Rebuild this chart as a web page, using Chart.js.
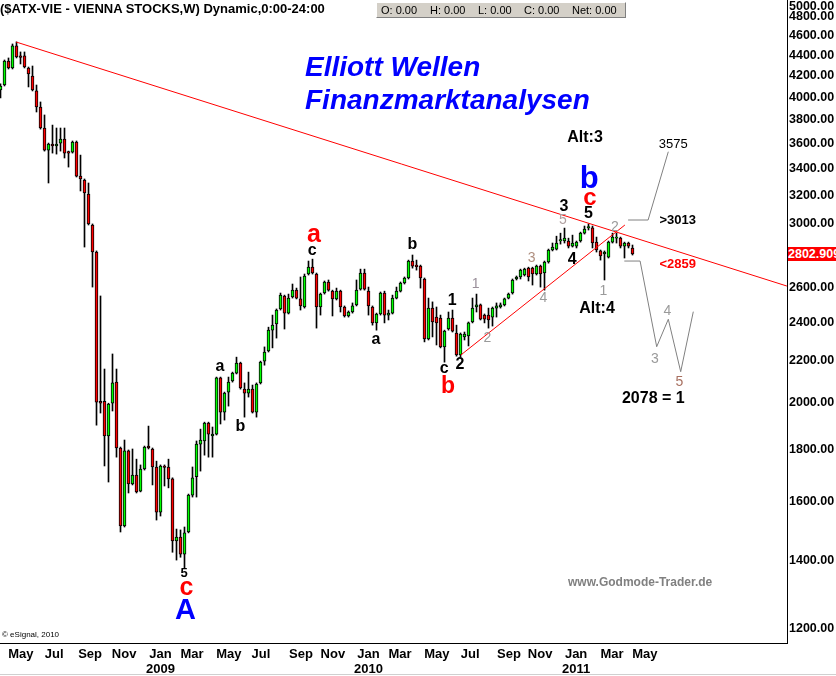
<!DOCTYPE html>
<html><head><meta charset="utf-8">
<script src="https://cdn.jsdelivr.net/npm/chart.js"></script>
<style>
html,body{margin:0;padding:0;background:#fff;}
#wrap{position:relative;width:836px;height:676px;overflow:hidden;font-family:"Liberation Sans",Arial,sans-serif;background:#fff;}
canvas{position:absolute;left:0;top:0;}
.lbl{position:absolute;white-space:nowrap;transform:translate(-50%,-50%);line-height:1;}
#hdr{position:absolute;left:0px;top:1px;font-weight:bold;font-size:13px;color:#000;white-space:nowrap;}
#ohlc{position:absolute;left:376px;top:2px;width:248px;height:14px;background:#d4d0c8;border:1px solid;border-color:#fff #808080 #808080 #fff;font-size:11px;color:#000;white-space:nowrap;}
#ohlc span{position:absolute;top:1px;}
#price{position:absolute;left:788px;top:247px;width:48px;height:14px;background:#ff0000;color:#fff;font-weight:bold;font-size:12.5px;line-height:14px;white-space:nowrap;overflow:hidden;}
#y5000{position:absolute;left:789px;top:0px;font-weight:bold;font-size:12.5px;line-height:13px;color:#000;}
#copy{position:absolute;left:2px;top:630px;font-size:8px;color:#000;}
#title1,#title2{position:absolute;left:305px;font-weight:bold;font-style:italic;font-size:28px;color:#0000ff;white-space:nowrap;line-height:1;}
#wm{position:absolute;left:568px;top:575px;font-weight:bold;font-size:12px;color:#808080;}
#botline{position:absolute;left:0;top:674px;width:836px;height:1px;background:#d0d0d0;}
</style></head><body>
<div id="wrap"><canvas id="c" width="836" height="676"></canvas></div>
<script>
// Weekly ATX candles (index 0 = first visible week, ~late Mar 2008)
const opens  = [4065,4111,4341,4273,4492,4391,4391,4273,4196,4056,3911,3729,3547,3596,3580,3604,3637,3535,3531,3612,3344,3314,3211,2993,2815,2007,2007,1855,1998,2096,1805,1513,1793,1664,1698,1637,1721,1813,1801,1729,1561,1733,1729,1683,1462,1475,1419,1492,1622,1691,1821,1834,1910,1855,1863,2116,1958,2049,2101,2139,2188,2063,2044,2063,1958,2092,2198,2249,2358,2391,2474,2548,2451,2542,2582,2531,2485,2678,2720,2678,2485,2565,2630,2576,2531,2576,2485,2435,2457,2497,2588,2684,2576,2485,2397,2446,2565,2440,2451,2536,2576,2624,2654,2758,2733,2726,2648,2311,2479,2429,2424,2270,2364,2424,2343,2229,2322,2327,2402,2485,2497,2440,2440,2429,2479,2485,2497,2536,2565,2648,2660,2672,2714,2714,2678,2726,2684,2752,2828,2834,2886,2886,2886,2853,2853,2886,2938,2973,2973,2879,2822,2803,2783,2879,2905,2905,2853,2873,2841];
const highs  = [4121,4351,4371,4512,4533,4431,4431,4282,4292,4111,3956,3841,3604,3754,3729,3729,3729,3539,3621,3621,3507,3322,3292,3000,2822,2548,2159,1998,2234,2159,1809,1838,1797,1801,1760,1737,1813,1897,1805,1752,1737,1737,1760,1687,1502,1499,1509,1626,1729,1834,1884,1914,1914,1893,2120,2120,2049,2120,2144,2218,2193,2092,2144,2082,2092,2198,2270,2374,2440,2474,2565,2553,2559,2618,2594,2660,2678,2758,2770,2684,2565,2636,2642,2582,2594,2582,2491,2463,2508,2642,2708,2708,2600,2491,2451,2571,2576,2468,2553,2600,2630,2660,2764,2796,2764,2733,2654,2536,2514,2485,2440,2358,2457,2468,2385,2343,2348,2402,2536,2559,2502,2446,2479,2485,2508,2508,2536,2565,2648,2666,2708,2714,2720,2720,2733,2733,2758,2834,2873,2918,2938,2972,2905,2925,2886,2945,2986,3000,2986,2912,2828,2822,2886,2938,2938,2912,2879,2879,2860];
const lows   = [3992,4102,4263,4263,4371,4312,4273,4093,4056,3867,3720,3539,3292,3523,3515,3539,3484,3413,3523,3337,3233,2847,2993,2600,1901,1954,1733,1671,1963,1768,1492,1509,1630,1660,1630,1634,1717,1801,1660,1533,1547,1656,1649,1425,1400,1409,1375,1489,1615,1615,1713,1776,1768,1768,1859,1906,1923,1985,2096,2135,2063,1936,2026,1954,1936,2087,2178,2244,2265,2316,2468,2364,2446,2536,2531,2468,2479,2672,2678,2369,2440,2559,2576,2435,2525,2457,2429,2429,2451,2491,2582,2582,2440,2385,2358,2440,2397,2413,2446,2531,2571,2618,2648,2714,2702,2594,2296,2306,2322,2280,2265,2193,2358,2348,2223,2218,2306,2275,2397,2457,2413,2397,2369,2380,2429,2479,2491,2531,2559,2642,2648,2666,2636,2612,2672,2600,2582,2745,2822,2828,2866,2873,2841,2847,2841,2879,2932,2959,2841,2815,2764,2642,2777,2873,2873,2841,2777,2841,2796];
const closes = [4102,4341,4273,4492,4381,4376,4282,4215,4065,3911,3729,3547,3596,3580,3596,3637,3523,3523,3612,3344,3322,3219,3000,2815,2003,1998,1855,1994,2092,1805,1513,1793,1664,1698,1634,1721,1809,1805,1729,1561,1733,1727,1683,1462,1475,1419,1489,1622,1687,1821,1838,1910,1863,1863,2116,1958,2044,2096,2139,2188,2068,2044,2063,1958,2087,2193,2244,2358,2385,2468,2553,2451,2536,2582,2536,2491,2666,2720,2684,2485,2559,2630,2582,2531,2576,2485,2435,2457,2491,2582,2684,2588,2491,2397,2446,2565,2440,2451,2536,2576,2624,2654,2758,2726,2723,2654,2311,2479,2402,2397,2270,2353,2424,2353,2229,2337,2337,2397,2479,2497,2418,2418,2413,2479,2491,2497,2531,2559,2642,2660,2702,2708,2660,2678,2726,2678,2752,2828,2847,2873,2895,2905,2853,2873,2879,2938,2966,2983,2873,2828,2790,2815,2879,2912,2912,2853,2873,2853,2803];

// x-axis month labels and their week positions
const monthLabels = ['May','Jul','Sep','Nov',['Jan','2009'],'Mar','May','Jul','Sep','Nov',['Jan','2010'],'Mar','May','Jul','Sep','Nov',['Jan','2011'],'Mar','May'];
const monthPos = [5.1,13.4,22.4,30.9,40,47.9,57.1,65.1,75.1,83.1,92,99.9,109.1,117.4,127.1,134.9,143.9,152.9,161.1];
// y-axis tick values
const yTicks = [1200,1400,1600,1800,2000,2200,2400,2600,2800,3000,3200,3400,3600,3800,4000,4200,4400,4600,4800];

// drawn trend lines and projections (week index, price)
const trendMain = [{x:3.9,y:4532},{x:196.6,y:2606}];
const trendSupport = [{x:115.1,y:2229},{x:156.1,y:2993}];
const projAlt3 = [{x:156.9,y:3027},{x:161.9,y:3027},{x:166.95,y:3534}];
const projAlt4 = [{x:155.95,y:2758},{x:159.9,y:2758},{x:164.05,y:2271},{x:166.95,y:2417},{x:170.05,y:2146},{x:173.2,y:2459}];

const bodies = opens.map((o,i)=>({x:i,y:[o,closes[i]]}));
const wicks = lows.map((l,i)=>({x:i,y:[l,highs[i]]}));
const bodyColors = opens.map((o,i)=> closes[i]>=o ? '#00ff00' : '#ff0000');

const FONT = '"Liberation Sans", Arial, sans-serif';
new Chart(document.getElementById('c'), {
  data: { datasets: [
    {type:'line', data:trendMain, borderColor:'#ff0000', borderWidth:1, pointRadius:0, order:-2},
    {type:'line', data:trendSupport, borderColor:'#ff0000', borderWidth:1, pointRadius:0, order:-2},
    {type:'line', data:projAlt3, borderColor:'#808080', borderWidth:1, pointRadius:0, order:-2},
    {type:'line', data:projAlt4, borderColor:'#808080', borderWidth:1, pointRadius:0, order:-2},
    {type:'bar', data:bodies, backgroundColor:bodyColors, borderColor:'#000', borderWidth:1, borderSkipped:false, barThickness:3, grouped:false, order:0},
    {type:'bar', data:wicks, backgroundColor:'#000', borderWidth:0, barThickness:1, grouped:false, order:1}
  ]},
  options: {
    responsive:false, animation:false, devicePixelRatio:1,
    layout:{padding:0},
    plugins:{legend:{display:false}, tooltip:{enabled:false}},
    scales:{
      x:{type:'linear', min:-0.125, max:196.625, offset:false,
         grid:{display:false, drawTicks:false},
         border:{display:true, color:'#000', width:1},
         afterBuildTicks: s => { s.ticks = monthPos.map(v=>({value:v})); },
         afterFit: s => { s.height = 33; s.paddingLeft = 0; s.paddingRight = 0; },
         ticks:{autoSkip:false, maxRotation:0, padding:4, color:'#000',
                font:{family:FONT, size:13, weight:'bold', lineHeight:1.15},
                callback:(v,i)=>monthLabels[i]}},
      y:{type:'logarithmic', position:'right', min:1160, max:4985,
         grid:{display:false, drawTicks:false},
         border:{display:true, color:'#000', width:1},
         afterBuildTicks: s => { s.ticks = yTicks.map(v=>({value:v})); },
         afterFit: s => { s.width = 49; s.paddingTop = 0; s.paddingBottom = 0; },
         ticks:{autoSkip:false, padding:2, crossAlign:'near', color:'#000',
                font:{family:FONT, size:12.5, weight:'bold'},
                callback:v=>Number(v).toFixed(2)}}
    }
  }
});

// text overlays
const wrap = document.getElementById('wrap');
function addDiv(id, html){ const d=document.createElement('div'); d.id=id; d.innerHTML=html; wrap.appendChild(d); return d; }
addDiv('hdr','($ATX-VIE - VIENNA STOCKS,W) Dynamic,0:00-24:00');
addDiv('ohlc','<span style="left:4px">O: 0.00</span><span style="left:53px">H: 0.00</span><span style="left:101px">L: 0.00</span><span style="left:147px">C: 0.00</span><span style="left:195px">Net: 0.00</span>');
addDiv('price','2802.909');
addDiv('y5000','5000.00');
addDiv('copy','&copy; eSignal, 2010');
const t1 = addDiv('title1','Elliott Wellen'); t1.style.top='53px';
const t2 = addDiv('title2','Finanzmarktanalysen'); t2.style.top='86px';
addDiv('wm','www.Godmode-Trader.de');
addDiv('botline','');

const notes = [
 ['5',184,572,'#000',13,'bold'],
 ['c',186.5,586,'#ff0000',25,'bold'],
 ['A',185.5,609,'#0000ff',29,'bold'],
 ['a',220,366,'#000',16,'bold'],
 ['b',240.5,426,'#000',16,'bold'],
 ['a',314,233,'#ff0000',25,'bold'],
 ['c',312.3,250,'#000',16,'bold'],
 ['a',376,339,'#000',16,'bold'],
 ['b',412.5,244,'#000',16,'bold'],
 ['1',452.3,300,'#000',16,'bold'],
 ['c',444.3,368,'#000',16,'bold'],
 ['b',448,385,'#ff0000',23,'bold'],
 ['2',460,364,'#000',16,'bold'],
 ['1',475.7,283,'#9a8f9a',14,'normal'],
 ['2',487.3,337,'#9a9a9a',14,'normal'],
 ['3',531.7,257,'#b09080',14,'normal'],
 ['4',543.3,297,'#9a9a9a',14,'normal'],
 ['5',563,219,'#b0a0a0',14,'normal'],
 ['3',564,206,'#000',16,'bold'],
 ['5',588.5,213,'#000',16,'bold'],
 ['4',572.3,259,'#000',16,'bold'],
 ['c',590,197,'#ff0000',24,'bold'],
 ['b',589.3,177,'#0000ff',31,'bold'],
 ['Alt:3',585,137,'#000',16,'bold'],
 ['Alt:4',597,308,'#000',16,'bold'],
 ['3575',673.3,143,'#000',13,'normal'],
 ['&gt;3013',677.7,219,'#000',13,'bold'],
 ['&lt;2859',677.7,263,'#ff0000',13,'bold'],
 ['2',615,226,'#9a9a9a',14,'normal'],
 ['1',603.3,290,'#9a9a9a',14,'normal'],
 ['3',655,358,'#9a9a9a',14,'normal'],
 ['4',667.3,310,'#9a9a9a',14,'normal'],
 ['5',679.3,381,'#a87060',14,'normal'],
 ['2078 = 1',653.3,398,'#000',16,'bold']
];
notes.forEach(n=>{
  const d=document.createElement('div'); d.className='lbl'; d.innerHTML=n[0];
  d.style.left=n[1]+'px'; d.style.top=n[2]+'px'; d.style.color=n[3];
  d.style.fontSize=n[4]+'px'; d.style.fontWeight=n[5];
  wrap.appendChild(d);
});
</script></body></html>
